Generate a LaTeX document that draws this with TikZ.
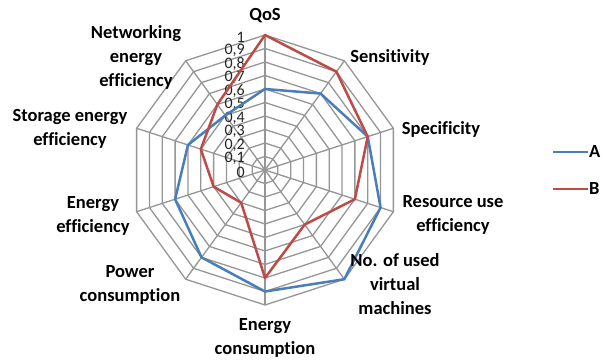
\documentclass[tikz,border=0pt]{standalone}
\usepackage{fontspec}
\setmainfont[Ligatures={NoCommon}]{Carlito}
\definecolor{serAcol}{HTML}{4A7EBB}
\definecolor{serBcol}{HTML}{BE4B48}
\definecolor{gridcol}{RGB}{150,150,150}
\begin{document}
\begin{tikzpicture}[x=1pt,y=-1pt,
  gridline/.style={draw=gridcol, line width=1.3pt, line join=round},
  lab/.style={font=\fontsize{18.5}{24}\selectfont\bfseries, align=center, text=black, inner sep=0},
  ticklab/.style={font=\fontsize{16}{16}\selectfont, anchor=east, inner sep=0, text=black!85},
  serA/.style={draw=serAcol, line width=2.5pt, line join=round},
  serB/.style={draw=serBcol, line width=2.5pt, line join=round},
  legtext/.style={font=\fontsize{18.5}{24}\selectfont\bfseries, anchor=west, inner sep=0, text=black}]
\useasboundingbox (0,0) rectangle (603,361);
\fill[white] (0,0) rectangle (603,361);
\begin{scope}[shift={(265,170)}]
  \foreach \i in {1,...,10}{
    \draw[gridline] (-90:\i*13.5) \foreach \k in {1,...,9}{ -- (36*\k-90:\i*13.5) } -- cycle;
  }
  \foreach \k in {0,...,9}{
    \draw[gridline] (0,0) -- (36*\k-90:135);
  }
  \foreach \i/\t in {0/0,1/{0,1},2/{0,2},3/{0,3},4/{0,4},5/{0,5},6/{0,6},7/{0,7},8/{0,8},9/{0,9},10/1}{
    \node[ticklab] (t\i) at (-20,-13.5*\i+2) {\t};
  }
  \draw[serA] (-90:0.6*135) -- (-54:0.7*135) -- (-18:0.8*135) -- (18:0.9*135) -- (54:1.0*135)
     -- (90:0.9*135) -- (126:0.8*135) -- (162:0.7*135) -- (198:0.6*135) -- (234:0.5*135) -- cycle;
  \draw[serB] (-90:1.0*135) -- (-54:0.9*135) -- (-18:0.8*135) -- (18:0.7*135) -- (54:0.5*135)
     -- (90:0.8*135) -- (126:0.3*135) -- (162:0.4*135) -- (198:0.5*135) -- (234:0.6*135) -- cycle;
\end{scope}
\node[lab] (qos) at (265,16) {QoS};
\node[lab] (sens) at (390,57) {Sensitivity};
\node[lab] (spec) at (441,129) {Specificity};
\node[lab] (res) at (453,215) {Resource use\\efficiency};
\node[lab] (vm) at (395,284) {No. of used\\virtual\\machines};
\node[lab] (ec) at (265,338) {Energy\\consumption};
\node[lab] (pc) at (130,285) {Power\\consumption};
\node[lab] (ee) at (93,216) {Energy\\efficiency};
\node[lab] (se) at (70,129) {Storage energy\\efficiency};
\node[lab] (ne) at (136,57) {Networking\\energy\\efficiency};
\coordinate (la1) at (553,152);
\coordinate (la2) at (588,152);
\coordinate (lb1) at (553,189);
\coordinate (lb2) at (588,189);
\draw[serA] (la1) -- (la2);
\draw[serB] (lb1) -- (lb2);
\node[legtext] (legA) at (589,152) {A};
\node[legtext] (legB) at (589,189) {B};
\end{tikzpicture}
\end{document}
